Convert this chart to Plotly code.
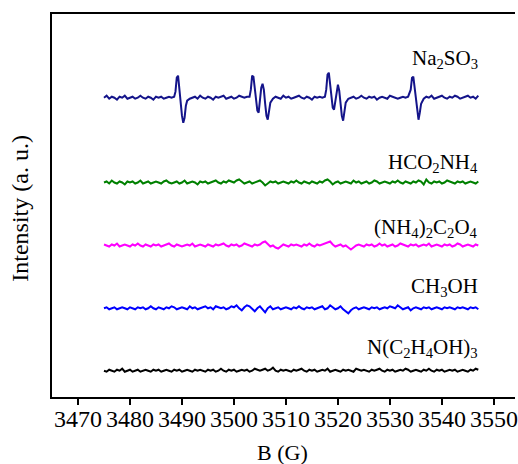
import numpy as np
import plotly.graph_objects as go

# ---------------- data ----------------
# Na2SO3 trace: field values (G) and intensity deviations (a.u.)
NA2SO3_B = (
    [3475.0, 3475.5, 3476.0, 3476.5, 3477.0, 3477.5, 3478.0, 3478.5, 3479.0, 3479.5,
     3480.0, 3480.5, 3481.0, 3481.5, 3482.0, 3482.5, 3483.0, 3483.5, 3484.0, 3484.5,
     3485.0, 3485.5, 3486.0, 3486.5, 3487.0, 3487.5, 3488.0]
    + [3488.5, 3488.75, 3489.0, 3489.25, 3489.5, 3489.75, 3490.0, 3490.25, 3490.5,
       3490.75, 3491.0, 3491.5]
    + [3492.0, 3492.5, 3493.0, 3493.5, 3494.0, 3494.5, 3495.0, 3495.5, 3496.0, 3496.5,
       3497.0, 3497.5, 3498.0, 3498.5, 3499.0, 3499.5, 3500.0, 3500.5, 3501.0, 3501.5,
       3502.0, 3502.5]
    + [3503.0, 3503.25, 3503.5, 3503.75, 3504.0, 3504.25, 3504.5, 3504.75, 3505.0,
       3505.25, 3505.5, 3505.75, 3506.0, 3506.25, 3506.5, 3506.75, 3507.0, 3507.5]
    + [3508.0, 3508.5, 3509.0, 3509.5, 3510.0, 3510.5, 3511.0, 3511.5, 3512.0, 3512.5,
       3513.0, 3513.5, 3514.0, 3514.5, 3515.0, 3515.5, 3516.0, 3516.5, 3517.0]
    + [3517.5, 3517.75, 3518.0, 3518.25, 3518.5, 3518.75, 3519.0, 3519.25, 3519.5,
       3519.75, 3520.0, 3520.25, 3520.5, 3520.75, 3521.0, 3521.25, 3521.5, 3522.0]
    + [3522.5, 3523.0, 3523.5, 3524.0, 3524.5, 3525.0, 3525.5, 3526.0, 3526.5, 3527.0,
       3527.5, 3528.0, 3528.5, 3529.0, 3529.5, 3530.0, 3530.5, 3531.0, 3531.5, 3532.0,
       3532.5, 3533.0, 3533.5]
    + [3534.0, 3534.25, 3534.5, 3534.75, 3535.0, 3535.25, 3535.5, 3535.75, 3536.0, 3536.5]
    + [3537.0, 3537.5, 3538.0, 3538.5, 3539.0, 3539.5, 3540.0, 3540.5, 3541.0, 3541.5,
       3542.0, 3542.5, 3543.0, 3543.5, 3544.0, 3544.5, 3545.0, 3545.5, 3546.0, 3546.5,
       3547.0]
)
NA2SO3_I = (
    [0, 2, -1, 1, 0, -2, 1, 0, 2, -1, 0, 1, -1, 0, 2, 0, -1, 1, 0, -2, 1, 0, 1, -1, 0, 1, 0]
    + [1, 6, 20, 22, 8, -6, -18, -25, -20, -8, -3, -1]
    + [0, 1, -1, 2, 0, -1, 1, 0, -2, 1, 0, 1, 2, -1, 0, 1, -1, 0, 2, 1, 0, 1]
    + [1, 8, 22, 21, 8, -5, -13, -15, -4, 10, 14, 8, -6, -18, -22, -14, -5, -1]
    + [1, 0, -1, 2, 0, 1, -1, 0, 1, 2, 0, -1, 1, 0, -2, 1, 0, 1, 0]
    + [1, 8, 23, 25, 12, -3, -10, -12, -3, 9, 13, 7, -6, -18, -23, -14, -5, -1]
    + [0, 1, -1, 0, 2, 0, -1, 1, 0, 1, -2, 0, 1, 0, -1, 2, 1, 0, -1, 0, 1, 0, 1]
    + [8, 20, 21, 10, -5, -17, -22, -15, -6, -1]
    + [1, 0, 2, -1, 0, 1, 2, 0, -1, 1, 0, 2, 1, -1, 0, 1, 2, 0, 1, -1, 2]
)

# Other traces sampled every 0.5 G from 3475 to 3547 G
B_START, B_STOP, B_STEP = 3475.0, 3547.0, 0.5

HCO2NH4_I = [
    0, 1, -1, 2, 0, -1, 1, 0, -2, 1,
    0, 1, -1, 0, 2, -1, 0, 1, -1, 0,
    1, 0, -1, 1, 2, 0, -1, 0, 1, -1,
    0, 2, -1, 0, 1, 0, -2, 1, 0, 1,
    -1, 0, 1, 2, 0, -1, 1, 0, 2, 1,
    0, 2, 3, 1, -1, 0, 1, -1, 0, 1,
    2, 0, -3, -1, 1, 0, 1, -1, 0, 1,
    0, -1, 1, 0, 2, 0, -1, 1, 0, -1,
    1, 0, -1, 1, 0, 2, 3, 1, -2, 0,
    1, -1, 0, 1, 0, -1, 2, 0, 1, -1,
    0, 1, -1, 0, 2, 1, -1, 0, 1, 0,
    -1, 1, 0, 2, 0, -1, 1, 0, -1, 1,
    0, 2, 1, -2, 3, 0, -1, 1, 0, 1,
    -1, 0, 2, 1, 0, -1, 1, 0, 1, -1,
    0, 1, 0, -1, 1,
]
NH4_2C2O4_I = [
    1, 0, -1, 1, 0, 2, -1, 0, 1, 0,
    -1, 1, 0, 2, 0, -1, 1, 0, -1, 1,
    0, 1, -1, 0, 1, 2, 0, -1, 1, 0,
    -1, 0, 1, 0, 2, -1, 0, 1, 0, -1,
    1, 0, -1, 1, 0, 1, 2, 0, -1, 1,
    0, 1, -1, 0, 2, 1, 0, -1, 1, 0,
    1, 3, 4, 1, -1, 0, -2, -3, -1, 1,
    0, -1, 1, 0, 1, 0, -1, 1, 0, 2,
    0, -1, 1, 0, 1, 2, 3, 4, 1, -1,
    0, 1, -1, 0, -2, -4, -2, 0, 1, 0,
    -1, 1, 0, 1, -1, 0, 2, 0, 1, -1,
    0, 1, -1, 0, 2, 1, 0, -1, 1, 0,
    1, -1, 0, 1, 0, 2, -1, 0, 1, 0,
    -1, 1, 0, 1, -1, 0, 2, 1, -1, 0,
    1, 0, -1, 1, 0,
]
CH3OH_I = [
    0, 1, -1, 0, 1, -1, 0, 1, 0, -1,
    1, 0, -1, 1, 0, 1, -1, 0, 2, 0,
    -1, 1, 0, -1, 1, 0, 2, 1, -1, 0,
    1, 0, -1, 2, 0, 1, -1, 0, 1, 2,
    0, 1, -1, 2, 1, 0, 1, -1, 0, 2,
    1, 3, 0, -2, 1, 3, 2, -1, -3, 0,
    2, -1, -4, 0, 2, -1, 0, 1, -1, 0,
    1, 0, -1, 1, 0, 2, 0, -1, 1, 0,
    1, -1, 0, 1, 2, -1, 0, 3, 1, -1,
    0, 2, -1, -3, -5, -2, 0, 1, -1, 0,
    1, 0, -1, 1, 0, 1, -1, 0, 1, 0,
    2, 1, 0, 3, 1, -1, 0, 1, -2, 0,
    1, 0, -1, 1, 0, 1, -1, 0, 1, 0,
    -1, 1, 0, 1, 0, -1, 1, 0, 1, 0,
    -1, 1, 0, 1, -1,
]
TEA_I = [
    0, -1, 1, 0, -1, 1, 0, 2, -1, 0,
    1, -1, 0, 1, -1, 0, 1, 0, -1, 1,
    0, 1, -1, 0, 1, 0, -1, 1, 0, 1,
    -1, 0, 1, 0, -1, 1, 0, 1, 0, -1,
    1, 0, 1, -1, 0, 2, 0, -1, 1, 0,
    1, -1, 0, 1, 0, 1, -1, 0, 2, 1,
    0, 1, 2, 0, 1, 3, 0, -1, 1, 0,
    1, 0, -1, 1, 0, 1, 2, 0, -1, 1,
    0, 1, -1, 0, 1, 0, 2, -1, 0, 1,
    0, -1, 1, 0, 1, 0, -1, 2, 1, 0,
    1, 0, -1, 1, 0, 1, 2, 0, -1, 1,
    0, 1, -1, 0, 1, 0, 2, 1, -1, 0,
    1, 0, -1, 1, 0, 2, 0, -1, 1, 0,
    1, -1, 0, 1, 0, 1, -1, 0, 1, 0,
    -1, 1, 0, 2, 1,
]

SAMPLES = ["Na<sub>2</sub>SO<sub>3</sub>", "HCO<sub>2</sub>NH<sub>4</sub>",
           "(NH<sub>4</sub>)<sub>2</sub>C<sub>2</sub>O<sub>4</sub>", "CH<sub>3</sub>OH",
           "N(C<sub>2</sub>H<sub>4</sub>OH)<sub>3</sub>"]
OFFSETS = [299.3, 214.5, 151.5, 88.7, 26.3]
X_TICKS = [3470, 3480, 3490, 3500, 3510, 3520, 3530, 3540, 3550]

# ---------------- figure ----------------
COLORS = ["#14148a", "#008000", "#ff00ff", "#0000ff", "#000000"]
FONT = "Liberation Serif, Times New Roman, serif"

grid = np.arange(B_START, B_STOP + B_STEP / 2, B_STEP)
xs = [NA2SO3_B, grid, grid, grid, grid]
ys = [NA2SO3_I, HCO2NH4_I, NH4_2C2O4_I, CH3OH_I, TEA_I]

fig = go.Figure()
for name, x, y, off, c in zip(SAMPLES, xs, ys, OFFSETS, COLORS):
    fig.add_trace(go.Scatter(x=x, y=np.array(y, dtype=float) + off, mode="lines",
                             line=dict(color=c, width=2), name=name, showlegend=False))

LABEL_Y = [338, 234, 169, 110, 49]
for name, ly in zip(SAMPLES, LABEL_Y):
    fig.add_annotation(x=3547.4, y=ly, xref="x", yref="y", text=name, showarrow=False,
                       xanchor="right", yanchor="middle",
                       font=dict(family=FONT, size=21, color="black"))

PLOT_W, PLOT_H = 466.5, 383
fig.add_annotation(x=(284 - 51.5) / PLOT_W, y=(397 - 452) / PLOT_H, xref="paper",
                   yref="paper", text="B (G)", showarrow=False, xanchor="center",
                   yanchor="middle", font=dict(family=FONT, size=22, color="black"))
fig.add_annotation(x=(19 - 51.5) / PLOT_W, y=(397 - 208) / PLOT_H, xref="paper",
                   yref="paper", text="Intensity (a. u.)", showarrow=False,
                   textangle=-90, xanchor="center", yanchor="middle",
                   font=dict(family=FONT, size=24, color="black"))

fig.update_layout(
    width=518, height=464,
    margin=dict(l=51.5, r=0, t=14, b=67),
    plot_bgcolor="white", paper_bgcolor="white",
    font=dict(family=FONT, size=22, color="black"),
)
fig.update_xaxes(range=[3465, 3554.06], tickvals=X_TICKS, ticks="outside", ticklen=6,
                 tickwidth=2, tickcolor="black", showline=True, linecolor="black",
                 linewidth=2, mirror=True, showgrid=False, zeroline=False,
                 ticklabeloverflow="allow", ticklabelstandoff=-7,
                 tickfont=dict(family=FONT, size=24, color="black"))
fig.update_yaxes(range=[0, 383], showticklabels=False, ticks="", showline=True,
                 linecolor="black", linewidth=2, mirror=False, showgrid=False,
                 zeroline=False)

fig.write_html("out.html", config={"displayModeBar": False},
               post_script="document.body.style.margin='0';"
                           "document.body.style.overflow='hidden';")
